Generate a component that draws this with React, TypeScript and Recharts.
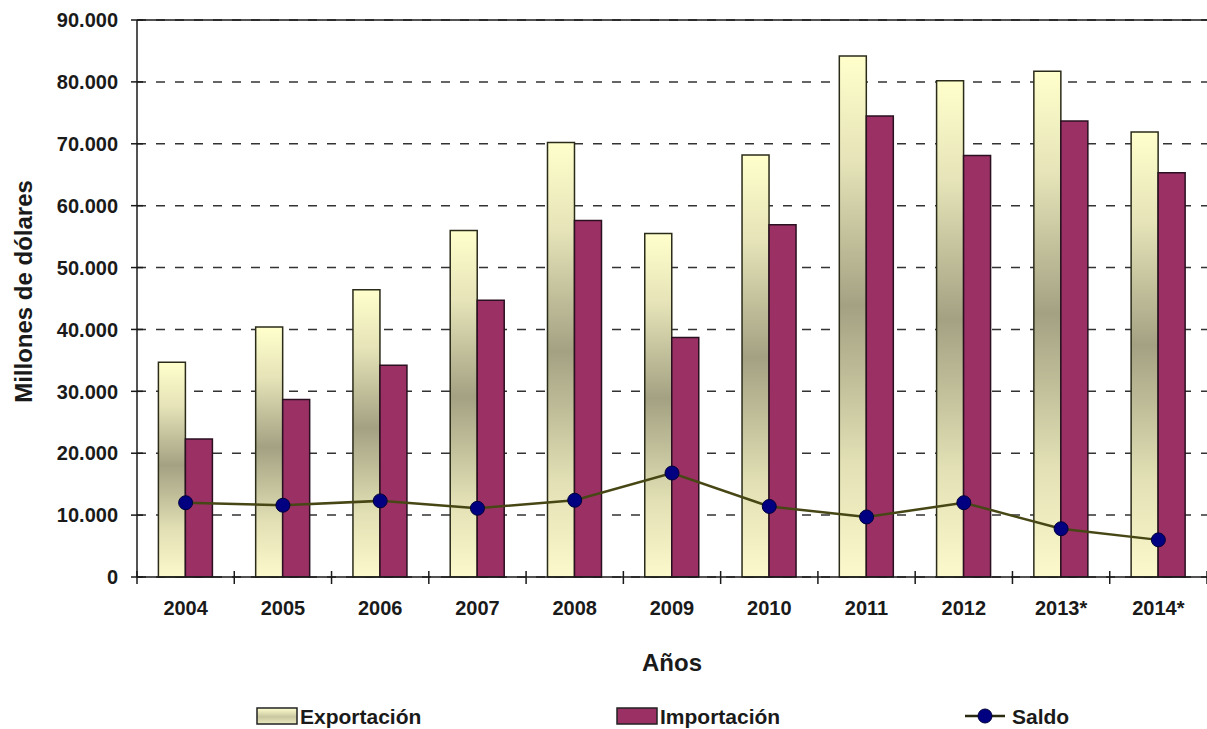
import React from 'react';
import {
  ComposedChart,
  Bar,
  Line,
  XAxis,
  YAxis,
  CartesianGrid,
  Legend,
  ReferenceLine,
} from 'recharts';

const years = ['2004', '2005', '2006', '2007', '2008', '2009', '2010', '2011', '2012', '2013*', '2014*'];
const exportacion = [34700, 40400, 46400, 56000, 70200, 55500, 68200, 84200, 80200, 81700, 71900];
const importacion = [22300, 28700, 34200, 44700, 57600, 38700, 56900, 74500, 68100, 73700, 65300];
const saldo = [12000, 11600, 12300, 11100, 12400, 16800, 11400, 9700, 12000, 7800, 6000];
const yTicks = [0, 10000, 20000, 30000, 40000, 50000, 60000, 70000, 80000, 90000];

const data = years.map((name, i) => ({
  name,
  Exportación: exportacion[i],
  Importación: importacion[i],
  Saldo: saldo[i],
}));

const W = 1207;
const H = 729;
const LEFT = 137;
const BAND = (W - LEFT) / years.length;
const FONT = '"Liberation Sans", Arial, sans-serif';
const INK = '#1a1a1a';

const fmt = (v: number) => (v === 0 ? '0' : (v / 1000).toFixed(3));

const YTick = ({ x, y, payload }: any) => (
  <g>
    <line x1={x - 6} x2={x + 6} y1={y} y2={y} stroke={INK} strokeWidth={1.5} />
    <text x={x - 19} y={y} dy="0.36em" textAnchor="end" fontSize={20} fontWeight="bold" fontFamily={FONT} fill={INK}>
      {fmt(payload.value)}
    </text>
  </g>
);

const XTick = ({ x, y, payload, index }: any) => (
  <g>
    <line x1={x - BAND / 2} x2={x - BAND / 2} y1={y - 6} y2={y + 7} stroke={INK} strokeWidth={1.5} />
    {index === years.length - 1 && (
      <line x1={x + BAND / 2} x2={x + BAND / 2} y1={y - 6} y2={y + 7} stroke={INK} strokeWidth={1.5} />
    )}
    <text x={x} y={y + 38} textAnchor="middle" fontSize={20} fontWeight="bold" fontFamily={FONT} fill={INK}>
      {payload.value}
    </text>
  </g>
);

const YLabel = ({ viewBox }: any) => {
  const cx = viewBox.x + 23;
  const cy = viewBox.y + viewBox.height / 2 - 7;
  return (
    <text
      x={cx}
      y={cy}
      transform={`rotate(-90, ${cx}, ${cy})`}
      textAnchor="middle"
      dominantBaseline="central"
      fontSize={24}
      fontWeight="bold"
      fontFamily={FONT}
      fill={INK}
    >
      Millones de dólares
    </text>
  );
};

const XLabel = ({ viewBox }: any) => (
  <text
    x={viewBox.x + viewBox.width / 2}
    y={viewBox.y + 94}
    textAnchor="middle"
    fontSize={24}
    fontWeight="bold"
    fontFamily={FONT}
    fill={INK}
  >
    Años
  </text>
);

const legendX = [257, 617, 965];

const LegendContent = ({ payload }: any) => (
  <svg width={W} height={24} style={{ display: 'block' }}>
    <defs>
      <linearGradient id="legGrad" x1="0" y1="0" x2="0" y2="1">
        <stop offset="0%" stopColor="#FFFFD0" />
        <stop offset="55%" stopColor="#C9C79F" />
        <stop offset="100%" stopColor="#ECEABF" />
      </linearGradient>
    </defs>
    {(payload || []).map((p: any, i: number) => {
      const x0 = legendX[i];
      return (
        <g key={p.value}>
          {p.type === 'line' ? (
            <g>
              <line x1={x0} x2={x0 + 40} y1={11} y2={11} stroke="#2a2a10" strokeWidth={2.5} />
              <circle cx={x0 + 20} cy={11} r={7} fill="#000080" stroke="#00003a" />
            </g>
          ) : (
            <rect
              x={x0}
              y={3}
              width={40}
              height={16}
              fill={i === 0 ? 'url(#legGrad)' : '#9B3065'}
              stroke="#222"
              strokeWidth={1.5}
            />
          )}
          <text
            x={x0 + (p.type === 'line' ? 47 : 43)}
            y={19}
            fontSize={21}
            fontWeight="bold"
            fontFamily={FONT}
            fill={INK}
          >
            {p.value}
          </text>
        </g>
      );
    })}
  </svg>
);

export default function App() {
  return (
    <div style={{ position: 'absolute', left: 0, top: 0, width: W, height: H, background: '#fff' }}>
      <ComposedChart
        width={W}
        height={H}
        data={data}
        margin={{ top: 20, right: 0, left: 0, bottom: 0 }}
        barCategoryGap="22%"
        barGap={0}
      >
        <defs>
          <linearGradient id="expGrad" x1="0" y1="0" x2="0" y2="1">
            <stop offset="0%" stopColor="#FFFFCC" />
            <stop offset="20%" stopColor="#E6E4B8" />
            <stop offset="48%" stopColor="#A3A182" />
            <stop offset="78%" stopColor="#E2E0B4" />
            <stop offset="100%" stopColor="#FCFACC" />
          </linearGradient>
        </defs>
        <CartesianGrid vertical={false} stroke="#333" strokeWidth={1.5} strokeDasharray="9 10" />
        <XAxis
          dataKey="name"
          height={128}
          tickLine={false}
          tickSize={0}
          tickMargin={0}
          stroke={INK}
          strokeWidth={1.5}
          tick={<XTick />}
          interval={0}
          label={<XLabel />}
        />
        <YAxis
          width={LEFT}
          domain={[0, 90000]}
          ticks={yTicks}
          tickLine={false}
          tickSize={0}
          tickMargin={0}
          stroke={INK}
          strokeWidth={1.5}
          tick={<YTick />}
          label={<YLabel />}
        />
        <ReferenceLine y={90000} stroke={INK} strokeWidth={1.5} />
        <Legend
          verticalAlign="bottom"
          height={24}
          wrapperStyle={{ left: 0, width: W }}
          content={<LegendContent />}
        />
        <Bar dataKey="Exportación" fill="url(#expGrad)" stroke="#2b2b1a" strokeWidth={1.5} isAnimationActive={false} legendType="rect" />
        <Bar dataKey="Importación" fill="#9B3065" stroke="#2a1020" strokeWidth={1.5} isAnimationActive={false} legendType="rect" />
        <Line
          dataKey="Saldo"
          type="linear"
          stroke="#474716"
          strokeWidth={2.5}
          dot={{ r: 7, fill: '#000080', stroke: '#00003a', strokeWidth: 1 }}
          isAnimationActive={false}
          legendType="line"
        />
      </ComposedChart>
    </div>
  );
}
